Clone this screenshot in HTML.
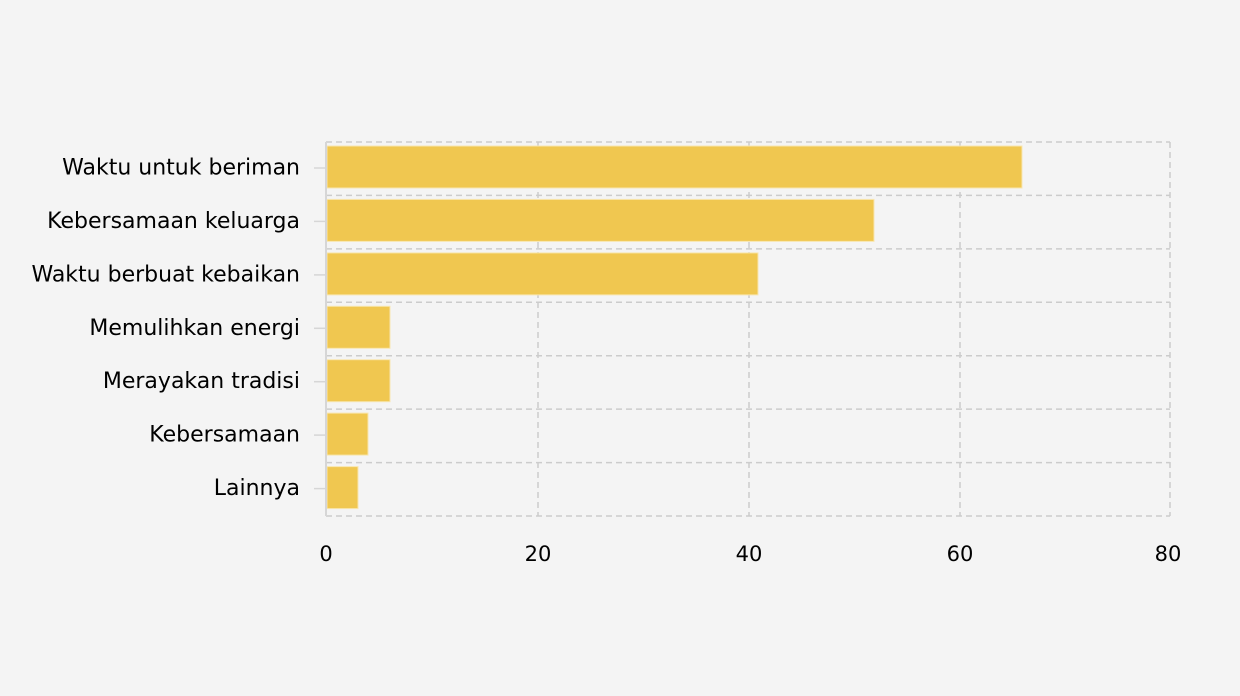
<!DOCTYPE html>
<html><head><style>html,body{margin:0;padding:0;background:#f4f4f4;width:1240px;height:696px;overflow:hidden}svg{display:block}</style></head><body>
<svg width="1240" height="696" xmlns="http://www.w3.org/2000/svg" font-family="DejaVu Sans, sans-serif" font-size="22">
<rect width="1240" height="696" fill="#f4f4f4"/>
<g stroke="#cccccc" stroke-width="1.5" stroke-dasharray="6,4" fill="none">
<line x1="538" y1="142" x2="538" y2="516"/><line x1="749" y1="142" x2="749" y2="516"/><line x1="960" y1="142" x2="960" y2="516"/><line x1="1170" y1="142" x2="1170" y2="516"/>
<line x1="326" y1="142" x2="1170" y2="142"/><line x1="326" y1="195.4" x2="1170" y2="195.4"/><line x1="326" y1="248.9" x2="1170" y2="248.9"/><line x1="326" y1="302.3" x2="1170" y2="302.3"/><line x1="326" y1="355.7" x2="1170" y2="355.7"/><line x1="326" y1="409.1" x2="1170" y2="409.1"/><line x1="326" y1="462.6" x2="1170" y2="462.6"/><line x1="326" y1="516" x2="1170" y2="516"/>
</g>
<g fill="#f0c750" stroke="#f8e6b0" stroke-width="1">
<rect x="327" y="146" width="695" height="42"/>
<rect x="327" y="199.4" width="547" height="42"/>
<rect x="327" y="252.9" width="431" height="42"/>
<rect x="327" y="306.3" width="63" height="42"/>
<rect x="327" y="359.7" width="63" height="42"/>
<rect x="327" y="413.1" width="41" height="42"/>
<rect x="327" y="466.6" width="31" height="42"/>
</g>
<line x1="326" y1="142" x2="326" y2="516" stroke="#d6d6d6" stroke-width="2"/>
<g stroke="#d6d6d6" stroke-width="1.5">
<line x1="314" y1="168" x2="326" y2="168"/><line x1="314" y1="221.4" x2="326" y2="221.4"/><line x1="314" y1="274.9" x2="326" y2="274.9"/><line x1="314" y1="328.3" x2="326" y2="328.3"/><line x1="314" y1="381.7" x2="326" y2="381.7"/><line x1="314" y1="435.1" x2="326" y2="435.1"/><line x1="314" y1="488.6" x2="326" y2="488.6"/>
</g>
<g fill="#000" text-anchor="end" dominant-baseline="central">
<text x="300" y="168">Waktu untuk beriman</text>
<text x="300" y="221.4">Kebersamaan keluarga</text>
<text x="300" y="274.9">Waktu berbuat kebaikan</text>
<text x="300" y="328.3">Memulihkan energi</text>
<text x="300" y="381.7">Merayakan tradisi</text>
<text x="300" y="435.1">Kebersamaan</text>
<text x="300" y="488.6">Lainnya</text>
</g>
<g fill="#000" text-anchor="middle" font-size="21">
<text x="326" y="561">0</text><text x="538" y="561">20</text><text x="749" y="561">40</text><text x="960" y="561">60</text><text x="1168" y="561">80</text>
</g>
</svg>
</body></html>
